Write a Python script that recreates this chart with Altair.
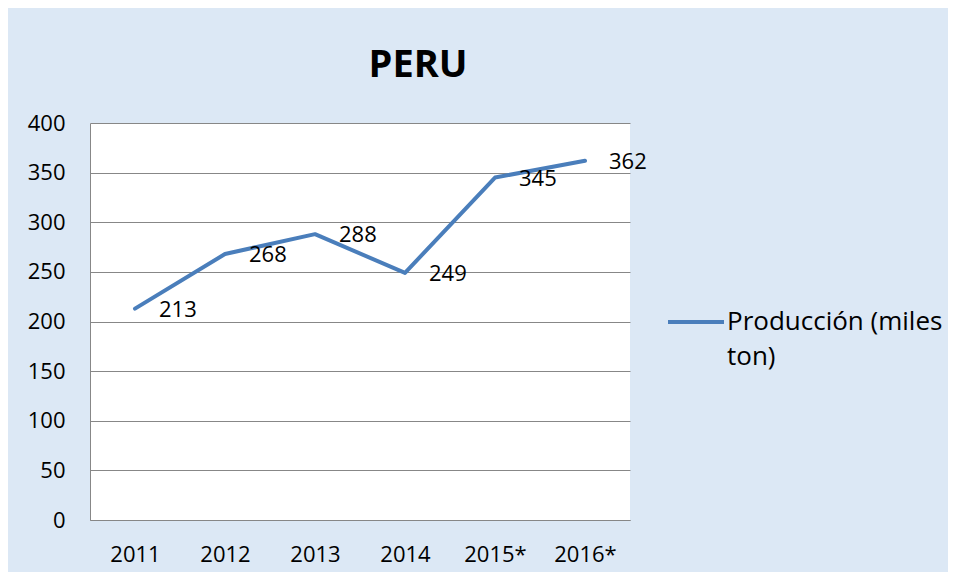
import altair as alt
import pandas as pd

years = ["2011", "2012", "2013", "2014", "2015*", "2016*"]
production = [213, 268, 288, 249, 345, 362]
series_name = "Producción (miles ton)"
y_ticks = [0, 50, 100, 150, 200, 250, 300, 350, 400]

df = pd.DataFrame({"year": years, "value": production, "serie": [series_name] * len(years)})

FONT = "Open Sans"
GRID = "#878787"

x_enc = alt.X(
    "year:O",
    sort=years,
    title=None,
    axis=alt.Axis(
        labelAngle=0,
        ticks=False,
        domain=True,
        domainColor=GRID,
        domainWidth=1,
        grid=False,
        labelFont=FONT,
        labelFontSize=22,
        labelColor="#000000",
        labelPadding=24,
    ),
)
y_enc = alt.Y(
    "value:Q",
    title=None,
    scale=alt.Scale(domain=[0, 400], nice=False, zero=True),
    axis=alt.Axis(
        values=y_ticks,
        ticks=False,
        domain=True,
        domainColor=GRID,
        domainWidth=1,
        grid=True,
        gridColor=GRID,
        gridWidth=1,
        labelFont=FONT,
        labelFontSize=22,
        labelColor="#000000",
        labelPadding=25,
    ),
)

line = alt.Chart(df).mark_line(strokeWidth=4, strokeCap="round", strokeJoin="round").encode(
    x=x_enc,
    y=y_enc,
    color=alt.Color(
        "serie:N",
        scale=alt.Scale(range=["#4a7ebb"]),
        legend=alt.Legend(
            title=None,
            orient="none",
            legendX=576,
            legendY=169,
            padding=0,
            symbolType="stroke",
            symbolSize=3136,
            symbolStrokeWidth=4,
            labelFont=FONT,
            labelFontSize=26,
            labelColor="#000000",
            labelLimit=400,
            labelOffset=1,
            labelBaseline="middle",
            labelExpr="['Producción (miles', 'ton)']",
        ),
    ),
)

labels = alt.Chart(df).mark_text(
    align="left", baseline="middle", dx=24, dy=1, font=FONT, fontSize=22, color="#000000"
).encode(
    x=alt.X("year:O", sort=years),
    y=alt.Y("value:Q"),
    text=alt.Text("value:Q"),
)

chart = (
    alt.layer(line, labels)
    .properties(
        width=540,
        height=397,
        autosize=alt.AutoSizeParams(type="none"),
        padding={"left": 82, "top": 115, "right": 318, "bottom": 52},
        background="#dce8f5",
        title=alt.TitleParams(
            "PERU",
            font=FONT,
            fontSize=38,
            fontWeight="bold",
            color="#000000",
            anchor="middle",
            frame="group",
            dx=58,
            offset=-3,
            baseline="alphabetic",
        ),
    )
    .configure(
        view=alt.ViewConfig(fill="#ffffff", strokeWidth=0),
        style={"guide-label": {"lineHeight": 35}},
    )
)

chart.save("out.html", embed_options={"renderer": "svg", "actions": False})
